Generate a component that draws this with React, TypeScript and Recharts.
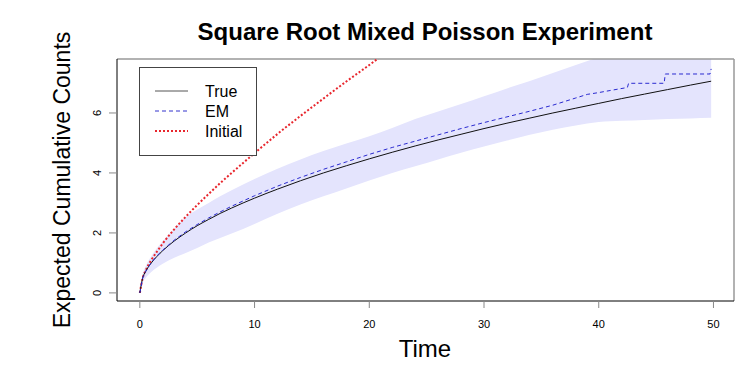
import React from "react";
import { Area, ComposedChart, Line, ReferenceLine, XAxis, YAxis } from "recharts";

// time grid shared by the band, true and initial curves
const times = [0, 0.25, 0.5, 1, 1.5, 2, 3, 4, 5, 6, 7, 8, 10, 12, 14, 16, 18, 20, 22, 24, 26, 28, 30, 32, 34, 36, 38, 40, 42, 44, 46, 48, 49.8];
const trueVals = [0, 0.5, 0.71, 1.0, 1.22, 1.41, 1.73, 2.0, 2.24, 2.45, 2.65, 2.83, 3.16, 3.46, 3.74, 4.0, 4.24, 4.47, 4.69, 4.9, 5.1, 5.29, 5.48, 5.66, 5.83, 6.0, 6.16, 6.32, 6.48, 6.63, 6.78, 6.93, 7.06];
const bandLow = [0, 0.35, 0.5, 0.7, 0.85, 0.97, 1.17, 1.33, 1.5, 1.68, 1.83, 1.98, 2.3, 2.64, 2.95, 3.22, 3.48, 3.75, 4.0, 4.22, 4.45, 4.67, 4.88, 5.08, 5.27, 5.44, 5.58, 5.7, 5.74, 5.77, 5.8, 5.82, 5.84];
const bandHigh = [0, 0.62, 0.88, 1.22, 1.5, 1.72, 2.15, 2.52, 2.78, 3.0, 3.22, 3.42, 3.8, 4.14, 4.45, 4.73, 4.98, 5.22, 5.5, 5.8, 6.05, 6.3, 6.56, 6.82, 7.07, 7.33, 7.6, 7.86, 8.1, 8.3, 8.5, 8.65, 8.8];
const initialVals = [0, 0.5, 0.74, 1.1, 1.38, 1.65, 2.12, 2.54, 2.93, 3.3, 3.66, 4.0, 4.66, 5.3, 5.9, 6.48, 7.05, 7.6, 8.17, 8.7, null, null, null, null, null, null, null, null, null, null, null, null, null];

// EM estimate, a step curve near the end
const emTimes = [0, 0.25, 0.5, 1, 1.5, 2, 3, 4, 5, 6, 7, 8, 10, 12, 14, 16, 18, 20, 22, 24, 26, 28, 30, 32, 34, 36, 38, 39, 40, 41, 42.5, 42.6, 45.7, 45.8, 49.7, 49.8];
const emVals = [0, 0.5, 0.71, 1.01, 1.24, 1.43, 1.76, 2.04, 2.28, 2.5, 2.7, 2.89, 3.24, 3.56, 3.85, 4.12, 4.37, 4.62, 4.85, 5.06, 5.27, 5.48, 5.68, 5.87, 6.06, 6.26, 6.5, 6.62, 6.68, 6.75, 6.85, 6.99, 6.99, 7.3, 7.3, 7.47];

const xTicks = [0, 10, 20, 30, 40, 50];
const yTicks = [0, 2, 4, 6];

const rows = times.map((t, i) => ({
  t,
  truth: trueVals[i],
  band: [bandLow[i], bandHigh[i]],
  initial: initialVals[i],
}));
const emRows = emTimes.map((t, i) => ({ t, em: emVals[i] }));

const FONT = '"Liberation Sans", Arial, sans-serif';

const legendItems = [
  { label: "True", color: "#555", dash: undefined, width: 1 },
  { label: "EM", color: "#3333cc", dash: "4 3", width: 1 },
  { label: "Initial", color: "#e8262d", dash: "2 2", width: 2 },
];

function RLegend() {
  return (
    <svg width={118} height={89} style={{ display: "block" }}>
      <rect x={0.5} y={0.5} width={117} height={88} fill="#fff" stroke="#444" />
      {legendItems.map((it, i) => (
        <g key={it.label}>
          <line x1={16} x2={49} y1={24 + i * 20} y2={24 + i * 20} stroke={it.color} strokeWidth={it.width} strokeDasharray={it.dash} />
          <text x={66} y={30 + i * 20} fontSize={16} fontFamily={FONT} fill="#000">{it.label}</text>
        </g>
      ))}
    </svg>
  );
}

// R draws y tick labels parallel to the axis
function YTick(props: any) {
  const { y, payload } = props;
  return (
    <text x={0} y={0} transform={`translate(101,${y}) rotate(-90)`} textAnchor="middle" fontSize={11} fontFamily={FONT} fill="#000">
      {payload.value}
    </text>
  );
}

export default function App() {
  return (
    <div style={{ position: "absolute", left: 0, top: 0, width: 750, height: 375, background: "#fff", fontFamily: FONT }}>
      <ComposedChart width={750} height={375} data={rows} margin={{ top: 59, right: 16, bottom: 44, left: 77 }}>
        <XAxis
          dataKey="t"
          type="number"
          domain={[-1.99, 51.79]}
          ticks={xTicks}
          allowDataOverflow
          height={30}
          tickSize={7}
          tickMargin={12}
          axisLine={{ stroke: "#000" }}
          tickLine={{ stroke: "#888" }}
          tick={{ fontSize: 11, fill: "#000", fontFamily: FONT }}
        />
        <YAxis
          type="number"
          domain={[-0.27, 7.8]}
          ticks={yTicks}
          allowDataOverflow
          width={40}
          tickSize={8}
          axisLine={{ stroke: "#000" }}
          tickLine={{ stroke: "#888" }}
          tick={<YTick />}
        />
        <ReferenceLine y={7.8} stroke="#999" strokeWidth={1.5} />
        <ReferenceLine x={51.79} stroke="#999" strokeWidth={1.5} />
        <Area dataKey="band" type="monotone" fill="#e4e4fd" fillOpacity={1} stroke="none" isAnimationActive={false} />
        <Line dataKey="initial" type="monotone" stroke="#e8262d" strokeWidth={2} strokeDasharray="2 2" dot={false} isAnimationActive={false} />
        <Line dataKey="truth" type="monotone" stroke="#111" strokeWidth={1} dot={false} isAnimationActive={false} />
        <Line data={emRows} dataKey="em" type="linear" stroke="#2a2ad0" strokeWidth={1} strokeDasharray="4 3" dot={false} isAnimationActive={false} />
      </ComposedChart>
      <div style={{ position: "absolute", left: 139, top: 67 }}>
        <RLegend />
      </div>
      <div style={{ position: "absolute", left: 125, top: 18, width: 600, textAlign: "center", fontSize: 24, fontWeight: "bold", lineHeight: "28px" }}>
        Square Root Mixed Poisson Experiment
      </div>
      <div style={{ position: "absolute", left: 62 - 200, top: 180 - 14, width: 400, textAlign: "center", fontSize: 23, lineHeight: "28px", transform: "rotate(-90deg)" }}>
        Expected Cumulative Counts
      </div>
      <div style={{ position: "absolute", left: 325, top: 335, width: 200, textAlign: "center", fontSize: 24, lineHeight: "28px" }}>
        Time
      </div>
    </div>
  );
}
